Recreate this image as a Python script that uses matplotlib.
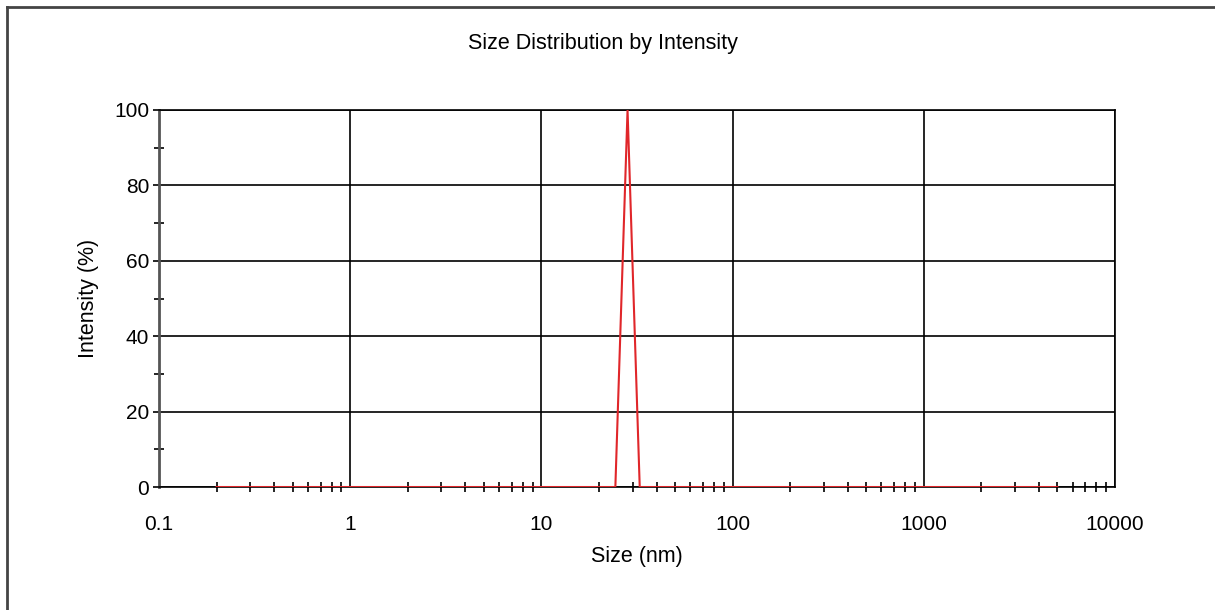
import numpy as np
import matplotlib
matplotlib.use("Agg")
import matplotlib.pyplot as plt
from matplotlib.ticker import LogLocator, FixedLocator, NullFormatter
from matplotlib.lines import Line2D

plt.rcParams['font.family'] = ['Liberation Sans', 'DejaVu Sans']

# size bins (nm) and intensity (%) of the distribution
size_nm = [0.2, 0.3, 0.4, 0.5, 0.6, 0.7, 0.8, 0.9, 1,
           2, 3, 4, 5, 6, 7, 8, 9, 10,
           20, 24.36, 28.21, 32.67, 40, 50, 60, 70, 80, 90, 100,
           200, 300, 400, 500, 600, 700, 800, 900, 1000,
           2000, 3000, 4000, 5000]
intensity = [0] * len(size_nm)
intensity[size_nm.index(28.21)] = 100

x_ticks = [0.1, 1, 10, 100, 1000, 10000]
x_labels = ['0.1', '1', '10', '100', '1000', '10000']
y_ticks = [0, 20, 40, 60, 80, 100]

fig = plt.figure(figsize=(12.15, 6.1), dpi=100)
ax = fig.add_axes([0.1309, 0.2016, 0.7868, 0.6181])

ax.plot(size_nm, intensity, color='#e0262a', lw=1.5, zorder=3)

ax.set_xscale('log')
ax.set_xlim(0.1, 10000)
ax.set_ylim(0, 100)
ax.set_xticks(x_ticks)
ax.set_xticklabels(x_labels)
ax.xaxis.set_minor_locator(LogLocator(base=10, subs=np.arange(2, 10)))
ax.xaxis.set_minor_formatter(NullFormatter())
ax.set_yticks(y_ticks)
ax.yaxis.set_minor_locator(FixedLocator([10, 30, 50, 70, 90]))

ax.grid(True, which='major', color='black', lw=1.2)
ax.set_axisbelow(True)
for s in ax.spines.values():
    s.set_color('black')
    s.set_linewidth(1.2)
ax.spines['left'].set_color('#555555')
ax.spines['left'].set_linewidth(2)

ax.tick_params(axis='both', which='major', length=4, width=1.2, direction='out',
               labelsize=15, colors='black', pad=3)
ax.tick_params(axis='both', which='minor', length=7, width=1.2, direction='inout',
               colors='black')
ax.tick_params(axis='x', which='major', length=0, pad=20)

ax.set_xlabel('Size (nm)', fontsize=15.5, labelpad=9)
ax.set_ylabel('Intensity (%)', fontsize=15.5, labelpad=11)
fig.text(0.496, 0.929, 'Size Distribution by Intensity', ha='center', va='center', fontsize=15.5)

# frame around the report panel
fig.add_artist(Line2D([7 / 1215, 7 / 1215], [0, 1 - 7 / 610], transform=fig.transFigure,
                      color='#444444', lw=2))
fig.add_artist(Line2D([7 / 1215, 1], [1 - 7 / 610, 1 - 7 / 610], transform=fig.transFigure,
                      color='#444444', lw=2))

fig.savefig('out.png', dpi=100)
